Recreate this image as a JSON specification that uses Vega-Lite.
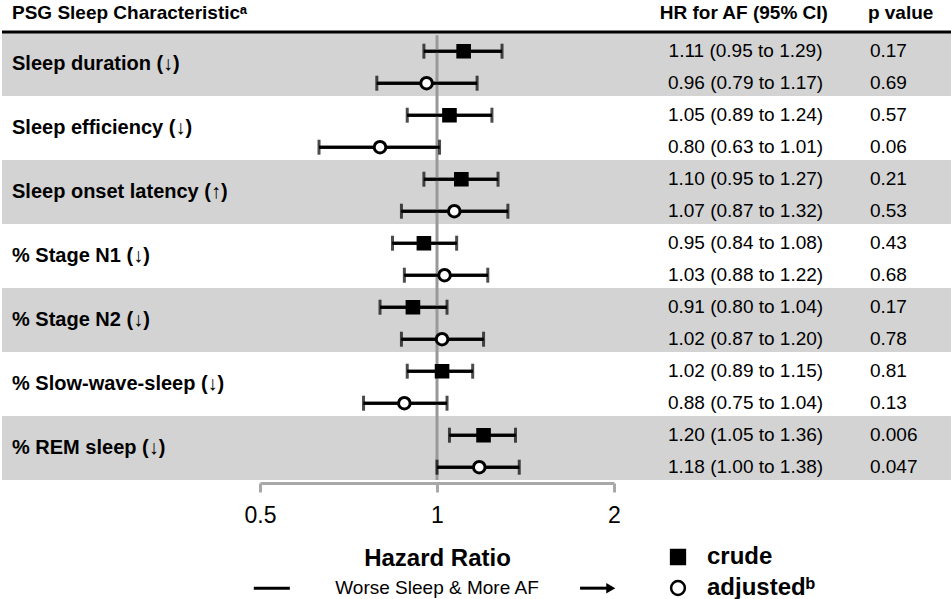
{
  "$schema": "https://vega.github.io/schema/vega-lite/v6.json",
  "padding": 0,
  "spacing": 0,
  "bounds": "flush",
  "config": {
    "view": {"stroke": null},
    "font": "Liberation Sans",
    "text": {"color": "black"},
    "legend": {
      "orient": "none",
      "legendX": 664,
      "legendY": 545,
      "padding": 0,
      "symbolSize": 190,
      "symbolStrokeWidth": 2.5,
      "labelFontSize": 24,
      "labelFontWeight": "bold",
      "labelColor": "black",
      "labelOffset": 17,
      "rowPadding": 7,
      "title": null
    }
  },
  "datasets": {
    "rows": [
      {"row": 1, "char": "Sleep duration (↓)", "type": "crude", "hr": 1.11, "lo": 0.95, "hi": 1.29, "ci": "1.11 (0.95 to 1.29)", "p": "0.17"},
      {"row": 2, "char": "Sleep duration (↓)", "type": "adjustedᵇ", "hr": 0.96, "lo": 0.79, "hi": 1.17, "ci": "0.96 (0.79 to 1.17)", "p": "0.69"},
      {"row": 3, "char": "Sleep efficiency (↓)", "type": "crude", "hr": 1.05, "lo": 0.89, "hi": 1.24, "ci": "1.05 (0.89 to 1.24)", "p": "0.57"},
      {"row": 4, "char": "Sleep efficiency (↓)", "type": "adjustedᵇ", "hr": 0.80, "lo": 0.63, "hi": 1.01, "ci": "0.80 (0.63 to 1.01)", "p": "0.06"},
      {"row": 5, "char": "Sleep onset latency (↑)", "type": "crude", "hr": 1.10, "lo": 0.95, "hi": 1.27, "ci": "1.10 (0.95 to 1.27)", "p": "0.21"},
      {"row": 6, "char": "Sleep onset latency (↑)", "type": "adjustedᵇ", "hr": 1.07, "lo": 0.87, "hi": 1.32, "ci": "1.07 (0.87 to 1.32)", "p": "0.53"},
      {"row": 7, "char": "% Stage N1  (↓)", "type": "crude", "hr": 0.95, "lo": 0.84, "hi": 1.08, "ci": "0.95 (0.84 to 1.08)", "p": "0.43"},
      {"row": 8, "char": "% Stage N1  (↓)", "type": "adjustedᵇ", "hr": 1.03, "lo": 0.88, "hi": 1.22, "ci": "1.03 (0.88 to 1.22)", "p": "0.68"},
      {"row": 9, "char": "% Stage N2  (↓)", "type": "crude", "hr": 0.91, "lo": 0.80, "hi": 1.04, "ci": "0.91 (0.80 to 1.04)", "p": "0.17"},
      {"row": 10, "char": "% Stage N2  (↓)", "type": "adjustedᵇ", "hr": 1.02, "lo": 0.87, "hi": 1.20, "ci": "1.02 (0.87 to 1.20)", "p": "0.78"},
      {"row": 11, "char": "% Slow-wave-sleep  (↓)", "type": "crude", "hr": 1.02, "lo": 0.89, "hi": 1.15, "ci": "1.02 (0.89 to 1.15)", "p": "0.81"},
      {"row": 12, "char": "% Slow-wave-sleep  (↓)", "type": "adjustedᵇ", "hr": 0.88, "lo": 0.75, "hi": 1.04, "ci": "0.88 (0.75 to 1.04)", "p": "0.13"},
      {"row": 13, "char": "% REM sleep  (↓)", "type": "crude", "hr": 1.20, "lo": 1.05, "hi": 1.36, "ci": "1.20 (1.05 to 1.36)", "p": "0.006"},
      {"row": 14, "char": "% REM sleep  (↓)", "type": "adjustedᵇ", "hr": 1.18, "lo": 1.00, "hi": 1.38, "ci": "1.18 (1.00 to 1.38)", "p": "0.047"}
    ],
    "groups": [
      {"label": "Sleep duration (↓)", "shaded": true, "top": 0.4, "bottom": 2.4, "mid": 1.4},
      {"label": "Sleep efficiency (↓)", "shaded": false, "top": 2.4, "bottom": 4.4, "mid": 3.4},
      {"label": "Sleep onset latency (↑)", "shaded": true, "top": 4.4, "bottom": 6.4, "mid": 5.4},
      {"label": "% Stage N1  (↓)", "shaded": false, "top": 6.4, "bottom": 8.4, "mid": 7.4},
      {"label": "% Stage N2  (↓)", "shaded": true, "top": 8.4, "bottom": 10.4, "mid": 9.4},
      {"label": "% Slow-wave-sleep  (↓)", "shaded": false, "top": 10.4, "bottom": 12.4, "mid": 11.4},
      {"label": "% REM sleep  (↓)", "shaded": true, "top": 12.4, "bottom": 14.4, "mid": 13.4}
    ],
    "headers": [
      {"column": "label", "text": "PSG Sleep Characteristicᵃ"},
      {"column": "hr", "text": "HR for AF (95% CI)"},
      {"column": "p", "text": "p value"}
    ],
    "notes": [
      {"text": "Worse Sleep & More AF"}
    ]
  },
  "hconcat": [
    {
      "width": 258,
      "height": 480,
      "layer": [
        {
          "data": {"name": "groups"},
          "transform": [{"filter": "datum.shaded"}],
          "mark": {"type": "rect", "color": "#d3d3d3"},
          "encoding": {
            "x": {"value": 0},
            "x2": {"value": "width"},
            "y": {"field": "top", "type": "quantitative", "scale": {"domain": [-0.6, 14.4], "reverse": true, "nice": false, "zero": false}, "axis": null},
            "y2": {"field": "bottom"}
          }
        },
        {
          "data": {"name": "headers"},
          "transform": [{"filter": "datum.column == 'label'"}],
          "mark": {"type": "rule", "color": "black", "strokeWidth": 3},
          "encoding": {"y": {"datum": 0.4, "type": "quantitative"}}
        },
        {
          "data": {"name": "headers"},
          "transform": [{"filter": "datum.column == 'label'"}],
          "mark": {"type": "text", "align": "left", "baseline": "middle", "fontSize": 19, "fontWeight": "bold", "dx": 10},
          "encoding": {
            "x": {"datum": 0, "type": "quantitative", "scale": {"domain": [0, 1]}, "axis": null},
            "y": {"datum": -0.19, "type": "quantitative"},
            "text": {"field": "text"}
          }
        },
        {
          "data": {"name": "groups"},
          "mark": {"type": "text", "align": "left", "baseline": "middle", "fontSize": 20, "fontWeight": "bold", "dx": 10},
          "encoding": {
            "x": {"datum": 0, "type": "quantitative"},
            "y": {"field": "mid", "type": "quantitative"},
            "text": {"field": "label"}
          }
        }
      ]
    },
    {
      "width": 354,
      "height": 480,
      "layer": [
        {
          "data": {"name": "groups"},
          "transform": [{"filter": "datum.shaded"}],
          "mark": {"type": "rect", "color": "#d3d3d3"},
          "encoding": {
            "x": {"value": 0},
            "x2": {"value": "width"},
            "y": {"field": "top", "type": "quantitative", "scale": {"domain": [-0.6, 14.4], "reverse": true, "nice": false, "zero": false}, "axis": null},
            "y2": {"field": "bottom"}
          }
        },
        {
          "data": {"name": "headers"},
          "transform": [{"filter": "datum.column == 'label'"}],
          "mark": {"type": "rule", "color": "black", "strokeWidth": 3},
          "encoding": {"y": {"datum": 0.4, "type": "quantitative"}}
        },
        {
          "data": {"name": "rows"},
          "mark": {"type": "rule", "color": "black", "strokeWidth": 3},
          "encoding": {
            "x": {
              "field": "lo", "type": "quantitative",
              "scale": {"type": "log", "base": 2, "domain": [0.5, 2], "nice": false},
              "axis": {
                "values": [0.5, 1, 2], "format": "~g", "grid": false,
                "domainColor": "#a8a8a8", "domainWidth": 3, "domainCap": "butt",
                "tickColor": "#a8a8a8", "tickWidth": 3, "tickSize": 9,
                "labelFontSize": 23, "labelColor": "black", "labelPadding": 12, "labelFlush": false,
                "offset": 3,
                "title": "Hazard Ratio", "titleFontSize": 24, "titleFontWeight": "bold", "titleColor": "black", "titlePadding": 19
              }
            },
            "x2": {"field": "hi"},
            "y": {"field": "row", "type": "quantitative"}
          }
        },
        {
          "data": {"name": "notes"},
          "mark": {"type": "rule", "color": "#999999", "strokeWidth": 3},
          "encoding": {
            "x": {"datum": 1, "type": "quantitative"},
            "y": {"datum": 0.5, "type": "quantitative"},
            "y2": {"datum": 14.4}
          }
        },
        {
          "data": {"name": "rows"},
          "mark": {"type": "rule", "color": "black", "strokeWidth": 3},
          "encoding": {
            "x": {"field": "lo", "type": "quantitative"},
            "x2": {"field": "hi"},
            "y": {"field": "row", "type": "quantitative"}
          }
        },
        {
          "data": {"name": "rows"},
          "mark": {"type": "tick", "orient": "vertical", "color": "black", "size": 15, "thickness": 3},
          "encoding": {
            "x": {"field": "lo", "type": "quantitative"},
            "y": {"field": "row", "type": "quantitative"}
          }
        },
        {
          "data": {"name": "rows"},
          "mark": {"type": "tick", "orient": "vertical", "color": "black", "size": 15, "thickness": 3},
          "encoding": {
            "x": {"field": "hi", "type": "quantitative"},
            "y": {"field": "row", "type": "quantitative"}
          }
        },
        {
          "data": {"name": "rows"},
          "mark": {"type": "point", "filled": true, "size": 135, "strokeWidth": 3, "opacity": 1},
          "encoding": {
            "x": {"field": "hr", "type": "quantitative"},
            "y": {"field": "row", "type": "quantitative"},
            "shape": {
              "field": "type", "type": "nominal",
              "scale": {"domain": ["crude", "adjustedᵇ"], "range": ["square", "circle"]}
            },
            "fill": {
              "field": "type", "type": "nominal",
              "scale": {"domain": ["crude", "adjustedᵇ"], "range": ["black", "white"]}
            },
            "stroke": {
              "field": "type", "type": "nominal",
              "scale": {"domain": ["crude", "adjustedᵇ"], "range": ["black", "black"]}
            }
          }
        },
        {
          "data": {"name": "notes"},
          "mark": {"type": "text", "align": "center", "baseline": "middle", "fontSize": 19},
          "encoding": {
            "x": {"datum": 1, "type": "quantitative"},
            "y": {"datum": 17.78, "type": "quantitative"},
            "text": {"field": "text"}
          }
        },
        {
          "data": {"name": "notes"},
          "mark": {"type": "rule", "color": "black", "strokeWidth": 3},
          "encoding": {
            "x": {"datum": 0.488, "type": "quantitative"},
            "x2": {"datum": 0.562},
            "y": {"datum": 17.78, "type": "quantitative"}
          }
        },
        {
          "data": {"name": "notes"},
          "mark": {"type": "rule", "color": "black", "strokeWidth": 3},
          "encoding": {
            "x": {"datum": 1.751, "type": "quantitative"},
            "x2": {"datum": 1.97},
            "y": {"datum": 17.78, "type": "quantitative"}
          }
        },
        {
          "data": {"name": "notes"},
          "mark": {"type": "point", "shape": "triangle-right", "filled": true, "color": "black", "size": 110, "opacity": 1},
          "encoding": {
            "x": {"datum": 1.975, "type": "quantitative"},
            "y": {"datum": 17.78, "type": "quantitative"}
          }
        }
      ]
    },
    {
      "width": 339,
      "height": 480,
      "layer": [
        {
          "data": {"name": "groups"},
          "transform": [{"filter": "datum.shaded"}],
          "mark": {"type": "rect", "color": "#d3d3d3"},
          "encoding": {
            "x": {"value": 0},
            "x2": {"value": "width"},
            "y": {"field": "top", "type": "quantitative", "scale": {"domain": [-0.6, 14.4], "reverse": true, "nice": false, "zero": false}, "axis": null},
            "y2": {"field": "bottom"}
          }
        },
        {
          "data": {"name": "headers"},
          "transform": [{"filter": "datum.column == 'label'"}],
          "mark": {"type": "rule", "color": "black", "strokeWidth": 3},
          "encoding": {"y": {"datum": 0.4, "type": "quantitative"}}
        },
        {
          "data": {"name": "headers"},
          "transform": [{"filter": "datum.column == 'hr'"}],
          "mark": {"type": "text", "align": "center", "baseline": "middle", "fontSize": 19, "fontWeight": "bold"},
          "encoding": {
            "x": {"datum": 0.383, "type": "quantitative", "scale": {"domain": [0, 1]}, "axis": null},
            "y": {"datum": -0.19, "type": "quantitative"},
            "text": {"field": "text"}
          }
        },
        {
          "data": {"name": "headers"},
          "transform": [{"filter": "datum.column == 'p'"}],
          "mark": {"type": "text", "align": "left", "baseline": "middle", "fontSize": 19, "fontWeight": "bold"},
          "encoding": {
            "x": {"datum": 0.749, "type": "quantitative"},
            "y": {"datum": -0.19, "type": "quantitative"},
            "text": {"field": "text"}
          }
        },
        {
          "data": {"name": "rows"},
          "mark": {"type": "text", "align": "center", "baseline": "middle", "fontSize": 19},
          "encoding": {
            "x": {"datum": 0.388, "type": "quantitative"},
            "y": {"field": "row", "type": "quantitative"},
            "text": {"field": "ci"}
          }
        },
        {
          "data": {"name": "rows"},
          "mark": {"type": "text", "align": "left", "baseline": "middle", "fontSize": 19},
          "encoding": {
            "x": {"datum": 0.755, "type": "quantitative"},
            "y": {"field": "row", "type": "quantitative"},
            "text": {"field": "p"}
          }
        }
      ]
    }
  ]
}
